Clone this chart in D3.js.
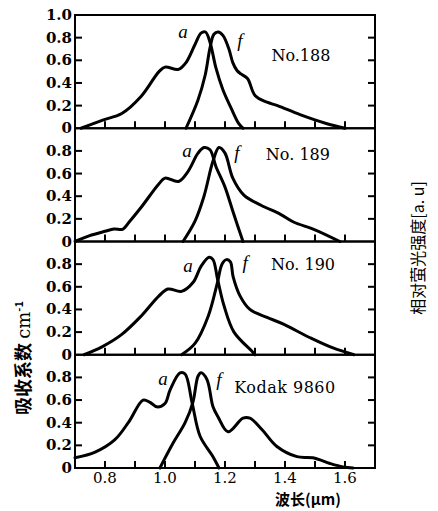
<!DOCTYPE html>
<html>
<head>
<meta charset="utf-8">
<style>
  body { margin: 0; background: #fff; }
  svg { display: block; }
  .tick-y { font-family: "DejaVu Serif", serif; font-weight: bold; font-size: 15px; }
  .tick-x { font-family: "DejaVu Serif", serif; font-size: 15px; }
  .tag { font-family: "DejaVu Serif", serif; font-size: 16px; }
  .curve-lbl { font-family: "Liberation Serif", serif; font-style: italic; font-size: 19px; }
</style>
</head>
<body>
<svg width="438" height="511"></svg>
<script src="https://d3js.org/d3.v7.min.js"></script>
<script>
// wavelength (um) vs absorption / fluorescence
let samples = ["No.188", "No. 189", "No. 190", "Kodak 9860"]

let abs188 = [[0.72,0],[0.79,0.07],[0.856,0.13],[0.92,0.28],[0.98,0.5],[1.0,0.54],[1.045,0.52],[1.07,0.58],[1.10,0.74],[1.12,0.84],[1.135,0.85],[1.15,0.76],[1.17,0.53],[1.193,0.34],[1.22,0.18],[1.246,0.04],[1.26,0]]
let flu188 = [[1.07,0],[1.11,0.25],[1.134,0.47],[1.15,0.71],[1.163,0.83],[1.177,0.85],[1.193,0.82],[1.213,0.7],[1.226,0.58],[1.24,0.51],[1.253,0.48],[1.275,0.44],[1.30,0.29],[1.34,0.23],[1.375,0.2],[1.45,0.12],[1.54,0.04],[1.6,0]]

let abs189 = [[0.70,0],[0.747,0.05],[0.8,0.09],[0.83,0.11],[0.86,0.11],[0.88,0.17],[0.92,0.3],[0.98,0.51],[1.0,0.56],[1.045,0.53],[1.077,0.62],[1.11,0.78],[1.13,0.83],[1.15,0.81],[1.17,0.66],[1.20,0.48],[1.227,0.26],[1.26,0]]
let flu189 = [[1.06,0],[1.10,0.18],[1.13,0.4],[1.16,0.71],[1.18,0.83],[1.20,0.78],[1.226,0.56],[1.263,0.41],[1.32,0.32],[1.385,0.24],[1.43,0.17],[1.494,0.11],[1.583,0]]

let abs190 = [[0.73,0],[0.79,0.07],[0.856,0.18],[0.92,0.34],[0.98,0.52],[1.01,0.58],[1.055,0.56],[1.094,0.64],[1.12,0.78],[1.147,0.86],[1.16,0.84],[1.175,0.67],[1.197,0.43],[1.23,0.2],[1.29,0.03],[1.30,0]]
let flu190 = [[1.055,0],[1.10,0.1],[1.144,0.34],[1.175,0.64],[1.19,0.8],[1.205,0.84],[1.218,0.82],[1.227,0.69],[1.25,0.52],[1.283,0.4],[1.34,0.33],[1.395,0.27],[1.484,0.15],[1.56,0.06],[1.63,0]]

let absKodak = [[0.70,0.09],[0.767,0.14],[0.833,0.25],[0.88,0.41],[0.927,0.6],[0.95,0.58],[0.973,0.54],[1.0,0.57],[1.017,0.69],[1.05,0.84],[1.067,0.83],[1.09,0.58],[1.117,0.28],[1.16,0.1],[1.18,0]]
let fluKodak = [[0.983,0],[1.027,0.22],[1.067,0.4],[1.093,0.58],[1.11,0.81],[1.12,0.84],[1.14,0.78],[1.16,0.54],[1.177,0.45],[1.21,0.32],[1.26,0.44],[1.283,0.44],[1.323,0.34],[1.373,0.19],[1.44,0.1],[1.493,0.09],[1.55,0.04],[1.593,0.01],[1.627,0]]

let absData = [abs188, abs189, abs190, absKodak]
let fluData = [flu188, flu189, flu190, fluKodak]

// label anchors (x in um, y in panel units)
let tagPos = [[1.453,0.59],[1.443,0.72],[1.46,0.75],[1.40,0.66]]
let aPos = [[1.06,0.8],[1.073,0.75],[1.077,0.73],[0.993,0.73]]
let fPos = [[1.25,0.72],[1.24,0.73],[1.267,0.76],[1.18,0.72]]

let xTicks = [0.8, 0.9, 1.0, 1.1, 1.2, 1.3, 1.4, 1.5, 1.6]
let xLabels = [0.8, 1.0, 1.2, 1.4, 1.6]
let yTicks = [0.2, 0.4, 0.6, 0.8]

let svg = d3.select("svg")

let mLeft = 75, mRight = 375, mTop = 15, mBottom = 468
let panelH = (mBottom - mTop) / samples.length
let tickLen = 7

let x = d3.scaleLinear().domain([0.7, 1.7]).range([mLeft, mRight])

let line = d3.line()
    .x(d => x(d[0]))
    .curve(d3.curveCatmullRom.alpha(0.5))

samples.forEach((name, i) => {
    let y0 = mTop + i * panelH
    let y = d3.scaleLinear().domain([0, 1]).range([y0 + panelH, y0])
    line.y(d => y(d[1]))

    let g = svg.append("g")

    // curves
    g.append("path").attr("d", line(absData[i]))
        .attr("fill", "none").attr("stroke", "#000").attr("stroke-width", 3)
        .attr("stroke-linejoin", "round").attr("stroke-linecap", "round")
    g.append("path").attr("d", line(fluData[i]))
        .attr("fill", "none").attr("stroke", "#000").attr("stroke-width", 3)
        .attr("stroke-linejoin", "round").attr("stroke-linecap", "round")

    // inward ticks as small rects
    g.selectAll(".xt").data(xTicks).join("rect")
        .attr("class", "xt")
        .attr("x", d => x(d) - 1).attr("y", y(0) - tickLen)
        .attr("width", 2).attr("height", tickLen)
        .attr("fill", "#000")
    g.selectAll(".yl").data(yTicks).join("rect")
        .attr("class", "yl")
        .attr("x", mLeft).attr("y", d => y(d) - 1)
        .attr("width", tickLen).attr("height", 2)
        .attr("fill", "#000")
    g.selectAll(".yr").data(yTicks).join("rect")
        .attr("class", "yr")
        .attr("x", mRight - tickLen).attr("y", d => y(d) - 1)
        .attr("width", tickLen).attr("height", 2)
        .attr("fill", "#000")

    // y tick labels
    let lab = i === 0 ? [0, 0.2, 0.4, 0.6, 0.8, 1.0] : [0, 0.2, 0.4, 0.6, 0.8]
    g.selectAll(".tick-y").data(lab).join("text")
        .attr("class", "tick-y")
        .attr("x", mLeft - 3)
        .attr("y", d => y(d) + 5)
        .attr("text-anchor", "end")
        .text(d => d === 0 ? "0" : d3.format(".1f")(d))

    // panel frame
    g.append("rect")
        .attr("x", mLeft).attr("y", y0)
        .attr("width", mRight - mLeft).attr("height", panelH)
        .attr("fill", "none").attr("stroke", "#000").attr("stroke-width", 2)

    g.append("text").attr("class", "tag")
        .attr("x", x(tagPos[i][0])).attr("y", y(tagPos[i][1]))
        .attr("text-anchor", "middle")
        .attr("letter-spacing", i === 3 ? 0.5 : 0)
        .text(name)
    g.append("text").attr("class", "curve-lbl")
        .attr("x", x(aPos[i][0])).attr("y", y(aPos[i][1]))
        .attr("text-anchor", "middle").text("a")
    g.append("text").attr("class", "curve-lbl")
        .attr("x", x(fPos[i][0])).attr("y", y(fPos[i][1]))
        .attr("text-anchor", "middle").text("f")
})

// x tick labels
svg.selectAll(".tick-x").data(xLabels).join("text")
    .attr("class", "tick-x")
    .attr("x", d => x(d))
    .attr("y", mBottom + 15)
    .attr("text-anchor", "middle")
    .text(d => d3.format(".1f")(d))

svg.append("text")
    .attr("x", 308).attr("y", 505)
    .attr("text-anchor", "middle")
    .style("font-family", "'Noto Sans CJK SC', sans-serif")
    .style("font-weight", "bold").style("font-size", "15px")
    .text("波长(μm)")

let yt = svg.append("text")
    .attr("transform", "translate(30,358) rotate(-90)")
    .attr("text-anchor", "middle")
    .style("font-family", "'Noto Sans CJK SC', sans-serif")
    .style("font-weight", "bold").style("font-size", "18px")
yt.append("tspan").text("吸收系数 ")
yt.append("tspan").style("font-family", "'DejaVu Serif', serif").style("font-weight", "normal").text("cm")
yt.append("tspan").attr("dy", -7).style("font-size", "11px").text("-1")

svg.append("text")
    .attr("transform", "translate(424,248) rotate(-90)")
    .attr("text-anchor", "middle")
    .style("font-family", "'Noto Sans CJK SC', sans-serif")
    .style("font-size", "16px")
    .text("相对萤光强度[a. u]")
</script>
</body>
</html>
